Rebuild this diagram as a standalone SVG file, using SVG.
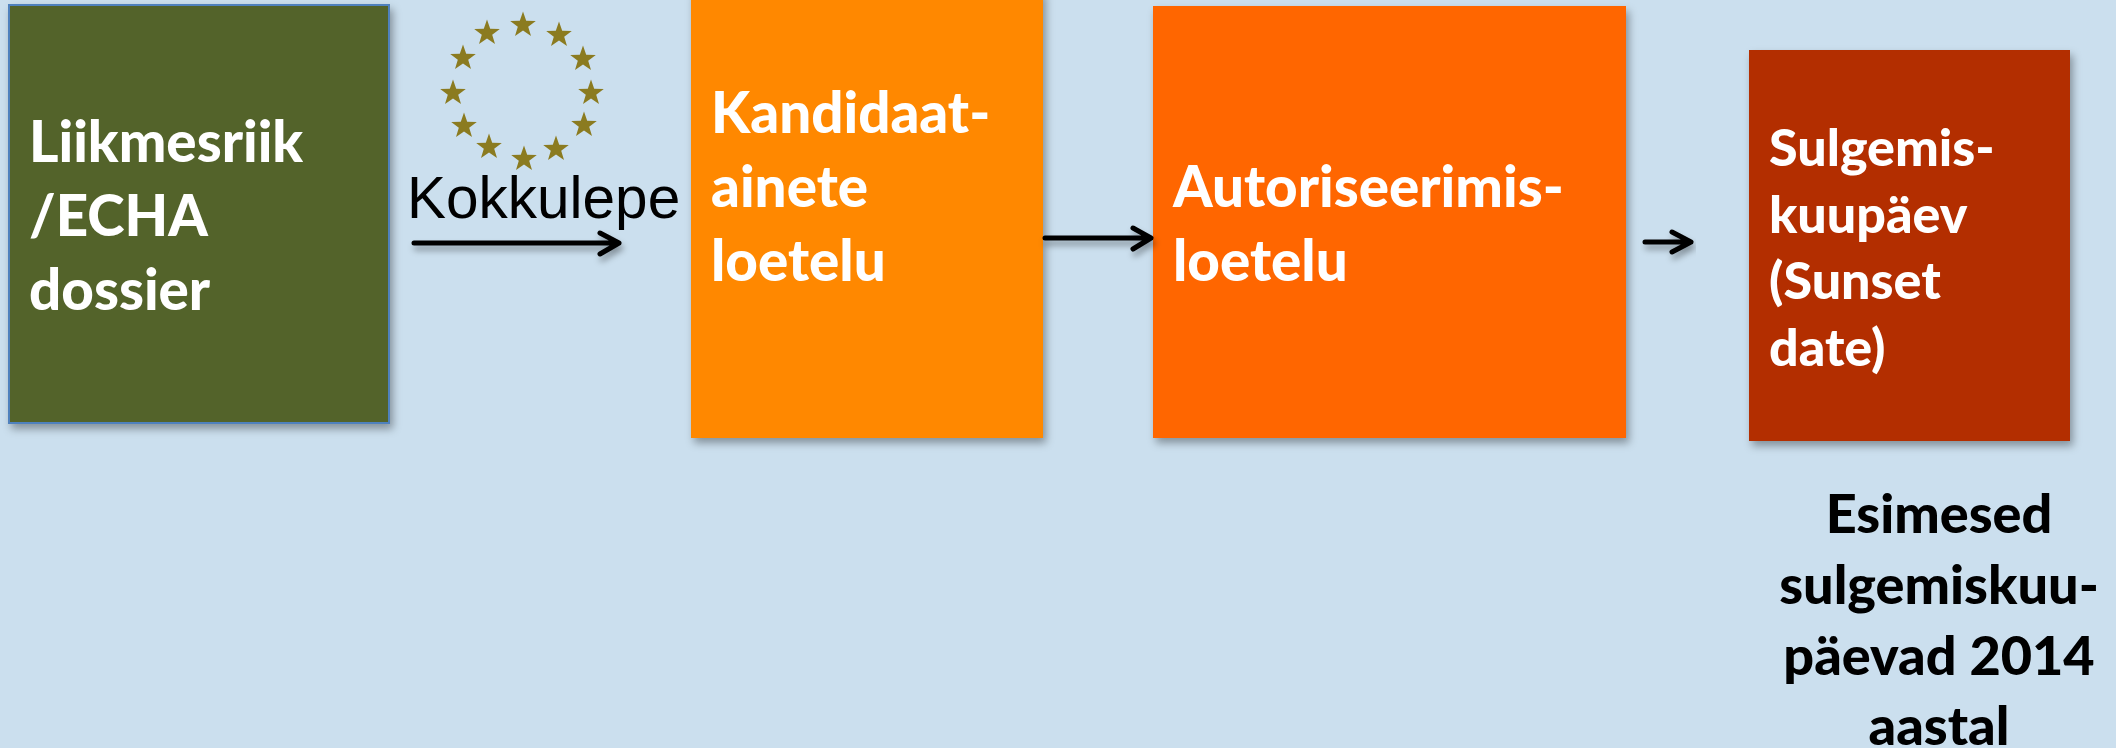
<svg xmlns="http://www.w3.org/2000/svg" xmlns:xlink="http://www.w3.org/1999/xlink" width="2116" height="748" viewBox="0 0 2116 748">
<style>
.t{font-family:"Lato","Open Sans","Liberation Sans",sans-serif;font-weight:900;font-size:56.5px;fill:#fff}
.m{font-size:52px}
.b{fill:#000;text-anchor:middle;font-size:54px}
.a{fill:none;stroke:#000;stroke-width:5;stroke-linecap:round;stroke-linejoin:round;filter:url(#sa)}
.s{fill:#8b7b20}
</style>
<defs>
<filter id="sh" x="-5%" y="-5%" width="112%" height="112%"><feDropShadow dx="3" dy="5" stdDeviation="4" flood-color="#000" flood-opacity="0.35"/></filter>
<filter id="sa" x="-10%" y="-50%" width="120%" height="250%"><feDropShadow dx="2" dy="5" stdDeviation="3" flood-color="#000" flood-opacity="0.35"/></filter>
<polygon id="star" points="0,-13.5 3.2,-4.2 12.8,-4 5.2,1.7 8,11 0,5.4 -8,11 -5.2,1.7 -12.8,-4 -3.2,-4.2"/>
</defs>
<rect width="2116" height="748" fill="#cbdfee"/>
<g id="node-dossier">
<rect x="9" y="5" width="380" height="418" fill="#526329" stroke="#4f81bd" stroke-width="2" filter="url(#sh)"/>
<text class="t"><tspan x="29" y="162">Liikmesriik</tspan><tspan x="29" y="236">/ECHA</tspan><tspan x="29" y="310">dossier</tspan></text>
</g>
<g id="node-eu-stars" class="s">
<use xlink:href="#star" href="#star" x="523" y="25"/>
<use xlink:href="#star" href="#star" x="559" y="35"/>
<use xlink:href="#star" href="#star" x="583" y="59"/>
<use xlink:href="#star" href="#star" x="591" y="93"/>
<use xlink:href="#star" href="#star" x="584" y="125"/>
<use xlink:href="#star" href="#star" x="556" y="149"/>
<use xlink:href="#star" href="#star" x="524" y="159"/>
<use xlink:href="#star" href="#star" x="489" y="147"/>
<use xlink:href="#star" href="#star" x="464" y="126"/>
<use xlink:href="#star" href="#star" x="453" y="93"/>
<use xlink:href="#star" href="#star" x="463" y="58"/>
<use xlink:href="#star" href="#star" x="487" y="33"/>
</g>
<g id="label-kokkulepe">
<text x="407" y="218" font-family="Liberation Sans, Arial, sans-serif" font-size="58.5" fill="#000">Kokkulepe</text>
</g>
<g id="node-kandidaat">
<rect x="691" y="-10" width="352" height="448" fill="#ff8800" filter="url(#sh)"/>
<text class="t"><tspan x="711" y="133">Kandidaat-</tspan><tspan x="711" y="207">ainete</tspan><tspan x="711" y="281">loetelu</tspan></text>
</g>
<g id="node-autoriseerimis">
<rect x="1153" y="6" width="473" height="432" fill="#ff6600" filter="url(#sh)"/>
<text class="t"><tspan x="1173" y="207">Autoriseerimis-</tspan><tspan x="1173" y="281">loetelu</tspan></text>
</g>
<g id="node-sulgemis">
<rect x="1749" y="50" width="321" height="391" fill="#b32e00" filter="url(#sh)"/>
<text class="t m"><tspan x="1769" y="166">Sulgemis-</tspan><tspan x="1769" y="233">kuupäev</tspan><tspan x="1769" y="299">(Sunset</tspan><tspan x="1769" y="366">date)</tspan></text>
</g>
<g id="label-esimesed">
<text class="t b"><tspan x="1939" y="533">Esimesed</tspan><tspan x="1939" y="604">sulgemiskuu-</tspan><tspan x="1939" y="675">päevad 2014</tspan><tspan x="1939" y="745">aastal</tspan></text>
</g>
<g id="connectors">
<path class="a" d="M414 243H619M600 233L619 243L600 254"/>
<path class="a" d="M1045 238H1151M1133 228L1151 238L1133 249"/>
<path class="a" d="M1645 242H1691M1672 232L1691 242L1672 252"/>
</g>
</svg>
